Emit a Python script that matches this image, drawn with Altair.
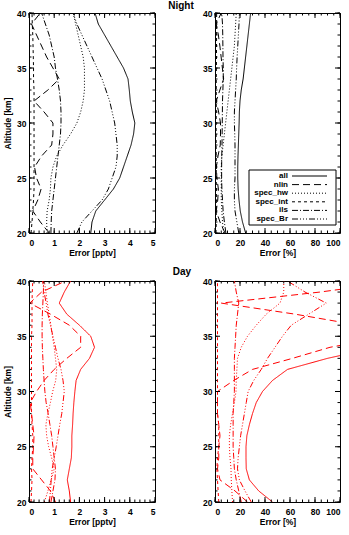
import altair as alt
import pandas as pd

FONT = "Liberation Sans"
alts = [20, 21, 22, 23, 24, 25, 26, 27, 28, 29, 30, 31, 32, 33, 34, 35, 36, 37, 38, 39, 40]
series = ["all", "nlin", "spec_hw", "spec_int", "ils", "spec_Br"]
dashes = [[1, 0], [7, 4], [1, 2], [3, 3], [6, 2, 1, 2], [6, 2, 1, 2, 1, 2, 1, 2]]

# Night, pptv
n_pptv_all = [2.45, 2.5, 2.65, 3.0, 3.35, 3.6, 3.75, 3.9, 4.05, 4.15, 4.2, 4.1, 4.02, 3.98, 3.93, 3.75, 3.5, 3.25, 3.0, 2.75, 2.62]
n_pptv_nlin = [0.8, 0.45, 0.15, 0.35, 0.48, 0.3, 0.22, 0.5, 0.9, 0.95, 0.95, 0.6, 0.2, 0.75, 1.2, 0.95, 0.7, 0.5, 0.3, 0.1, 0.45]
n_pptv_hw = [0.72, 0.7, 0.72, 0.8, 0.85, 0.87, 0.95, 1.1, 1.35, 1.65, 1.9, 2.05, 2.15, 2.2, 2.2, 2.2, 2.15, 2.05, 1.95, 1.85, 1.75]
n_pptv_int = [0.08, 0.12, 0.15, 0.18, 0.2, 0.2, 0.2, 0.2, 0.2, 0.2, 0.2, 0.2, 0.2, 0.2, 0.18, 0.18, 0.17, 0.16, 0.15, 0.13, 0.12]
n_pptv_ils = [0.87, 0.88, 0.9, 0.95, 1.0, 1.05, 1.1, 1.15, 1.2, 1.25, 1.27, 1.27, 1.25, 1.2, 1.13, 1.05, 1.0, 0.9, 0.8, 0.65, 0.5]
n_pptv_br = [1.9, 2.1, 2.5, 2.9, 3.15, 3.3, 3.45, 3.5, 3.5, 3.45, 3.4, 3.3, 3.2, 3.05, 2.9, 2.7, 2.5, 2.3, 2.1, 1.9, 1.75]

# Night, %
n_pct_all = [24.5, 22, 20.2, 19.2, 18.5, 18.2, 18.2, 18.4, 18.7, 19, 19.3, 19.5, 20, 21, 22.5, 23.5, 24.5, 25.5, 26.5, 27.5, 28.5]
n_pct_nlin = [8, 4, 1, 2.2, 2.7, 1.5, 1.1, 2.4, 4.2, 4.4, 4.4, 2.9, 1, 3.9, 6.9, 5.9, 4.9, 3.9, 2.7, 1, 4.9]
n_pct_hw = [7, 6, 5.5, 5, 5, 5, 5, 5.5, 6.5, 7.5, 8.5, 9.5, 10.5, 11.5, 12.5, 13.5, 14.5, 15.5, 16, 16.5, 17]
n_pct_int = [0.8, 1, 1, 1.1, 1.1, 1, 1, 1, 0.9, 0.9, 0.9, 1, 1, 1, 1, 1.1, 1.2, 1.2, 1.3, 1.3, 1.3]
n_pct_ils = [8.7, 7.5, 6.5, 6, 5.5, 5.3, 5.3, 5.4, 5.6, 5.7, 5.8, 5.9, 6, 6.3, 6.6, 6.6, 6.4, 6.3, 6.2, 6, 5.4]
n_pct_br = [19, 17.5, 16, 15.5, 15.5, 16, 16, 16, 16, 15.8, 15.5, 15.5, 16, 16.5, 17, 17.3, 17.7, 18.2, 18.7, 19.2, 19.5]

# Day, pptv
d_pptv_all = [1.65, 1.6, 1.52, 1.6, 1.68, 1.7, 1.7, 1.73, 1.75, 1.78, 1.82, 1.87, 2.05, 2.4, 2.6, 2.45, 2.0, 1.5, 1.2, 1.4, 1.65]
d_pptv_nlin = [1.05, 0.85, 0.5, 0.15, 0.15, 0.18, 0.2, 0.15, 0.1, 0.05, 0.3, 0.6, 1.0, 1.5, 2.05, 2.05, 1.6, 0.85, 0.03, 0.5, 1.45]
d_pptv_hw = [0.61, 0.75, 0.88, 1.0, 0.9, 0.78, 0.7, 0.67, 0.75, 0.85, 0.94, 1.06, 1.1, 1.05, 1.0, 0.93, 0.87, 0.8, 0.73, 0.67, 0.61]
d_pptv_int = [0.08, 0.1, 0.12, 0.1, 0.12, 0.15, 0.15, 0.12, 0.1, 0.1, 0.1, 0.1, 0.1, 0.1, 0.1, 0.1, 0.12, 0.12, 0.12, 0.13, 0.15]
d_pptv_ils = [0.87, 0.95, 1.03, 1.05, 1.0, 0.95, 0.9, 0.83, 0.76, 0.68, 0.63, 0.6, 0.57, 0.55, 0.53, 0.52, 0.52, 0.53, 0.55, 0.57, 0.58]
d_pptv_br = [0.81, 0.85, 0.88, 0.92, 1.0, 1.08, 1.15, 1.22, 1.3, 1.35, 1.4, 1.35, 1.27, 1.15, 1.05, 0.95, 0.85, 0.75, 0.68, 0.6, 0.54]

# Day, %
d_pct_all = [46, 35, 27.5, 25, 24.8, 24.8, 25.5, 27.5, 30, 33, 38, 46, 58, 90, 130, 160, 160, 160, 160, 160, 160]
d_pct_nlin = [26, 16, 4, 2, 3, 3, 4, 3, 2, 2, 2, 15, 30, 62, 92, 140, 115, 64, 5, 84, 150]
d_pct_hw = [14, 13.5, 13, 12.8, 12, 11.5, 11.5, 12.5, 14, 15.5, 16.8, 17, 17.5, 18, 21, 26, 33, 41, 52, 55, 55]
d_pct_int = [3, 2.5, 2, 1.5, 2, 3, 3, 3, 2, 2, 2, 2, 2, 2, 2, 2, 2, 2, 2, 2, 2]
d_pct_ils = [21, 19, 17, 15.5, 15, 14.5, 14.5, 14.5, 14.5, 15, 15.5, 15.5, 15.5, 15.5, 16, 16.5, 17, 18, 19, 17, 15.5]
d_pct_br = [29, 24, 19.5, 18, 18.5, 19.5, 20.5, 22, 23.5, 25, 26.5, 31, 37, 42, 48, 54, 61, 75, 89, 72, 58]

pptv_major = [0, 1, 2, 3, 4, 5]
pptv_minor = [i / 5 for i in range(26)]
pct_major = [0, 20, 40, 60, 80, 100]
pct_minor = [i * 5 for i in range(21)]
alt_major = [20, 25, 30, 35, 40]
alt_minor = [20 + i for i in range(21)]

dash_scale = alt.Scale(domain=series, range=dashes)


def long_df(cols):
    rows = []
    for s, vals in zip(series, cols):
        for a, v in zip(alts, vals):
            rows.append({"s": s, "a": a, "v": v})
    return pd.DataFrame(rows)


def panel(cols, xmax, xmajor, xminor, color, xtitle, ytitle, W, H, extra=None):
    xs = alt.Scale(domain=[0, xmax], nice=False, zero=False)
    ys = alt.Scale(domain=[20, 40], nice=False, zero=False)
    xaxis = alt.Axis(values=xmajor, title=xtitle, format="d", ticks=False, domain=False,
                     grid=False, labelPadding=5, titlePadding=2)
    yaxis = alt.Axis(values=alt_major, format="d", ticks=False, domain=False, grid=False,
                     labelPadding=3, titlePadding=4, title=ytitle)
    lines = alt.Chart(long_df(cols)).mark_line(clip=True, strokeWidth=1, color=color).encode(
        x=alt.X("v:Q", scale=xs, axis=xaxis),
        y=alt.Y("a:Q", scale=ys, axis=yaxis),
        strokeDash=alt.StrokeDash("s:N", scale=dash_scale, legend=None),
        order="a:Q",
    )
    layers = [lines]
    for vals, L in ((xmajor, 5), (xminor, 2.5)):
        tdf = pd.DataFrame({"v": vals})
        for y0, y1 in ((H, H - L), (0, L)):
            layers.append(alt.Chart(tdf).mark_rule(color="black", strokeWidth=1).encode(
                x=alt.X("v:Q", scale=xs, axis=xaxis), y=alt.value(y0), y2=alt.value(y1)))
    for vals, L in ((alt_major, 5), (alt_minor, 2.5)):
        tdf = pd.DataFrame({"t": vals})
        for x0, x1 in ((0, L), (W, W - L)):
            layers.append(alt.Chart(tdf).mark_rule(color="black", strokeWidth=1).encode(
                y=alt.Y("t:Q", scale=ys, axis=None), x=alt.value(x0), x2=alt.value(x1)))
    if extra:
        layers += extra
    return alt.layer(*layers).resolve_scale(y="independent").properties(width=W, height=H)


def title_layer(text, x, y):
    return alt.Chart(pd.DataFrame({"t": [text]})).mark_text(
        font=FONT, fontSize=10, fontWeight="bold", align="center", baseline="top", color="black"
    ).encode(text="t:N", x=alt.value(x), y=alt.value(y))


leg_df = pd.DataFrame({"s": series})
leg_y = alt.Scale(type="point", domain=series, range=[163, 206], padding=0)
legend_layers = [
    alt.Chart(pd.DataFrame({"k": [0]})).mark_rect(fill="white", stroke="black", strokeWidth=1).encode(
        x=alt.value(34), x2=alt.value(121), y=alt.value(157), y2=alt.value(212)),
    alt.Chart(leg_df).mark_text(font=FONT, fontSize=8, fontWeight="bold", align="right",
                                baseline="middle", color="black").encode(
        x=alt.value(73), y=alt.Y("s:N", scale=leg_y, axis=None), text="s:N"),
    alt.Chart(leg_df).mark_rule(color="black", strokeWidth=1).encode(
        x=alt.value(77), x2=alt.value(112), y=alt.Y("s:N", scale=leg_y, axis=None),
        strokeDash=alt.StrokeDash("s:N", scale=dash_scale, legend=None)),
]

p1 = panel([n_pptv_all, n_pptv_nlin, n_pptv_hw, n_pptv_int, n_pptv_ils, n_pptv_br], 5, pptv_major, pptv_minor,
           "black", "Error [pptv]", "Altitude [km]", 126, 220, [title_layer("Night", 152, -12)])
p2 = panel([n_pct_all, n_pct_nlin, n_pct_hw, n_pct_int, n_pct_ils, n_pct_br], 100, pct_major, pct_minor,
           "black", "Error [%]", "", 125, 220, legend_layers)
p3 = panel([d_pptv_all, d_pptv_nlin, d_pptv_hw, d_pptv_int, d_pptv_ils, d_pptv_br], 5, pptv_major, pptv_minor,
           "red", "Error [pptv]", "Altitude [km]", 126, 221, [title_layer("Day", 153, -14)])
p4 = panel([d_pct_all, d_pct_nlin, d_pct_hw, d_pct_int, d_pct_ils, d_pct_br], 100, pct_major, pct_minor,
           "red", "Error [%]", "", 125, 221)

chart = alt.concat(p1, p2, p3, p4, columns=2, spacing={"row": 48, "column": 60}, bounds="flush").properties(
    padding={"left": 3, "top": 0, "right": 0, "bottom": 0}
).configure_view(stroke="black", strokeWidth=1).configure_axis(
    labelFont=FONT, labelFontSize=8.5, labelFontWeight="bold", labelColor="black",
    titleFont=FONT, titleFontSize=8.5, titleFontWeight="bold", titleColor="black",
)

chart.save("out.html", embed_options={"renderer": "svg", "actions": False})
